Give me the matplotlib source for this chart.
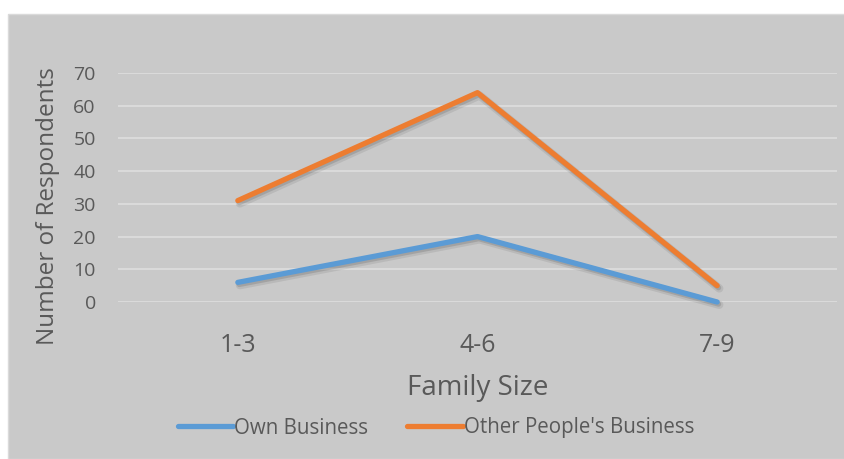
import matplotlib
matplotlib.use("Agg")
import matplotlib.pyplot as plt
import matplotlib.patheffects as pe
from matplotlib.patches import Rectangle

categories = ["1-3", "4-6", "7-9"]
own_business = [6, 20, 0]
other_business = [31, 64, 5]
yticks = [0, 10, 20, 30, 40, 50, 60, 70]

plt.rcParams['font.family'] = ['Open Sans', 'DejaVu Sans']
W, H = 845, 459
fig = plt.figure(figsize=(W/100, H/100), dpi=100, facecolor='white')
bg = '#C9C9C9'
rect = Rectangle((8/W, 0), 1 - 8/W, 1 - 14/H, transform=fig.transFigure,
                 facecolor=bg, edgecolor='#DADADA', lw=1, zorder=-10)
fig.add_artist(rect)

ax = fig.add_axes([118/W, 1 - 302/H, (837-118)/W, (302-73)/H])
ax.set_facecolor('none')
x = list(range(len(categories)))
shadow = [pe.SimpleLineShadow(offset=(1.5, -2), alpha=0.08, shadow_color='black', linewidth=6),
          pe.SimpleLineShadow(offset=(1, -1.5), alpha=0.12, shadow_color='black'),
          pe.Normal()]
ax.plot(x, own_business, color='#5B9BD5', lw=3.8, solid_capstyle='round', clip_on=False,
        path_effects=shadow, label='Own Business', zorder=3)
ax.plot(x, other_business, color='#ED7D31', lw=3.8, solid_capstyle='round', clip_on=False,
        path_effects=shadow, label="Other People's Business", zorder=3)

ax.set_xlim(-0.5, 2.5)
ax.set_ylim(0, 70)
ax.set_yticks(yticks)
ax.set_xticks(x)
ax.set_xticklabels(categories)
ax.grid(axis='y', color='#DADADA', lw=1.5)
ax.set_axisbelow(True)
for s in ax.spines.values():
    s.set_visible(False)
ax.tick_params(axis='both', length=0, colors='#595959')
ax.tick_params(axis='y', labelsize=14, pad=16)
ax.tick_params(axis='x', labelsize=18, pad=22)

fig.text(48/W, 1 - 206/H, 'Number of Respondents', rotation=90, ha='center', va='center',
         fontsize=17.5, color='#595959')
fig.text(478/W, 1 - 388/H, 'Family Size', ha='center', va='center', fontsize=20, color='#595959')

leg = fig.legend(loc='center', bbox_to_anchor=(436/W, 1 - 428/H), ncol=2, frameon=False,
                 fontsize=14.8, handlelength=2.7, handletextpad=0.05, columnspacing=1.9,
                 labelcolor='#595959')
for line in leg.get_lines():
    line.set_path_effects([])
    line.set_solid_capstyle('round')

fig.savefig('out.png', dpi=100, facecolor='white')
